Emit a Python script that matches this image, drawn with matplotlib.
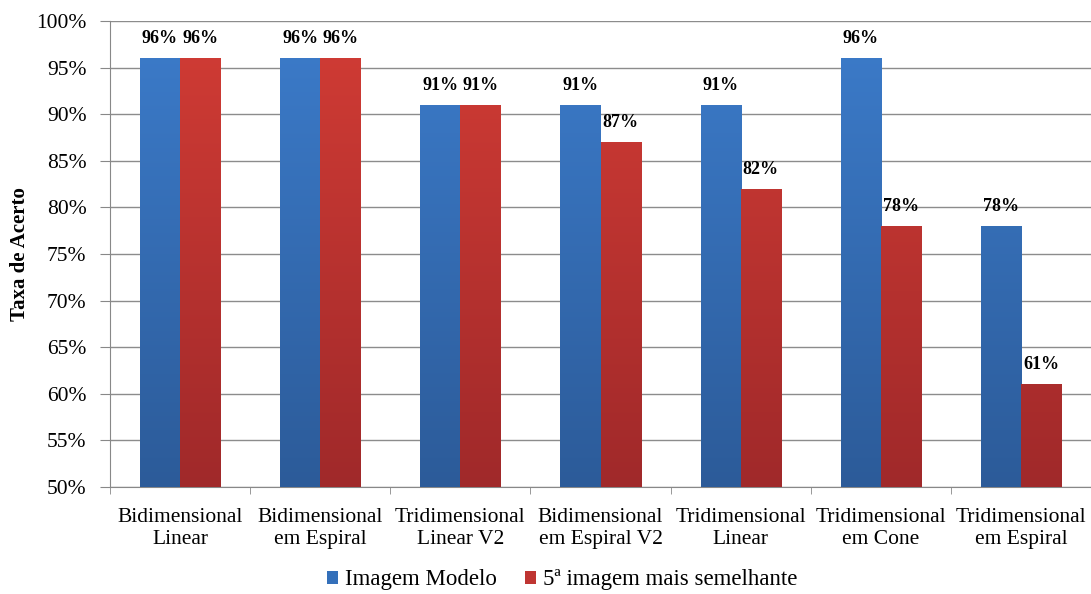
import matplotlib
matplotlib.use("Agg")
import matplotlib.pyplot as plt
import numpy as np
from matplotlib.colors import LinearSegmentedColormap
from matplotlib.ticker import FuncFormatter

categories = ["Bidimensional\nLinear", "Bidimensional\nem Espiral", "Tridimensional\nLinear V2",
              "Bidimensional\nem Espiral V2", "Tridimensional\nLinear", "Tridimensional\nem Cone",
              "Tridimensional\nem Espiral"]
modelo = [96, 96, 91, 91, 91, 96, 78]
quinta = [96, 96, 91, 87, 82, 78, 61]
series_names = ["Imagem Modelo", "5ª imagem mais semelhante"]
yticks = [50, 55, 60, 65, 70, 75, 80, 85, 90, 95, 100]

plt.rcParams['font.family'] = ['Liberation Serif', 'DejaVu Serif']

fig = plt.figure(figsize=(10.91, 5.94), dpi=100)
ax = fig.add_axes([110/1091, (594-487)/594, (1091-110)/1091, (487-21)/594])

x = np.arange(len(categories))
w = 0.2857
b1 = ax.bar(x - w/2, [v - 50 for v in modelo], w, bottom=50, color="#3470BA", zorder=2, label=series_names[0])
b2 = ax.bar(x + w/2, [v - 50 for v in quinta], w, bottom=50, color="#BF3532", zorder=2, label=series_names[1])

cm_blue = LinearSegmentedColormap.from_list("b", ["#2C5B99", "#3C7CCB"])
cm_red = LinearSegmentedColormap.from_list("r", ["#A0292A", "#D23C35"])
grad = np.linspace(0, 1, 256).reshape(-1, 1)
for bars, cm in ((b1, cm_blue), (b2, cm_red)):
    for r in bars:
        x0, y0 = r.get_x(), r.get_y()
        x1, y1 = x0 + r.get_width(), y0 + r.get_height()
        im = ax.imshow(grad, cmap=cm, aspect="auto", extent=(x0, x1, 50, 100), origin="lower", zorder=3)
        im.set_clip_path(r)

for bars, vals in ((b1, modelo), (b2, quinta)):
    for r, v in zip(bars, vals):
        ax.text(r.get_x() + r.get_width()/2, v + 1.2, f"{v}%", ha="center", va="bottom",
                fontsize=13, fontweight="bold", zorder=4)

ax.set_xlim(-0.5, len(categories) - 0.5)
ax.set_ylim(50, 100)
ax.set_yticks(yticks)
ax.yaxis.set_major_formatter(FuncFormatter(lambda v, p: f"{int(v)}%"))
ax.set_xticks(x)
ax.set_xticklabels(categories, fontsize=15.5, linespacing=1.2)
ax.set_xticks(np.arange(-0.5, len(categories) + 0.5, 1), minor=True)
ax.tick_params(axis="x", which="major", length=0, pad=15)
ax.tick_params(axis="x", which="minor", length=5, color="#888888", direction="out")
ax.tick_params(axis="y", labelsize=15.5, length=7, color="#888888", pad=10)
ax.grid(axis="y", color="#8C8C8C", linewidth=1, zorder=1)
ax.set_axisbelow(True)
for s in ("top", "right"):
    ax.spines[s].set_visible(False)
for s in ("left", "bottom"):
    ax.spines[s].set_color("#888888")
ax.set_ylabel("Taxa de Acerto", fontsize=15, fontweight="bold")
ax.yaxis.set_label_coords(-0.082, 0.5)

fig.legend(handles=[b1, b2], labels=series_names, loc="center", bbox_to_anchor=(562/1091, 1 - 580/594),
           ncol=2, frameon=False, fontsize=16.5, handlelength=0.5, handleheight=0.5, handletextpad=0.3,
           columnspacing=1.2)

fig.savefig("out.png", dpi=100)
